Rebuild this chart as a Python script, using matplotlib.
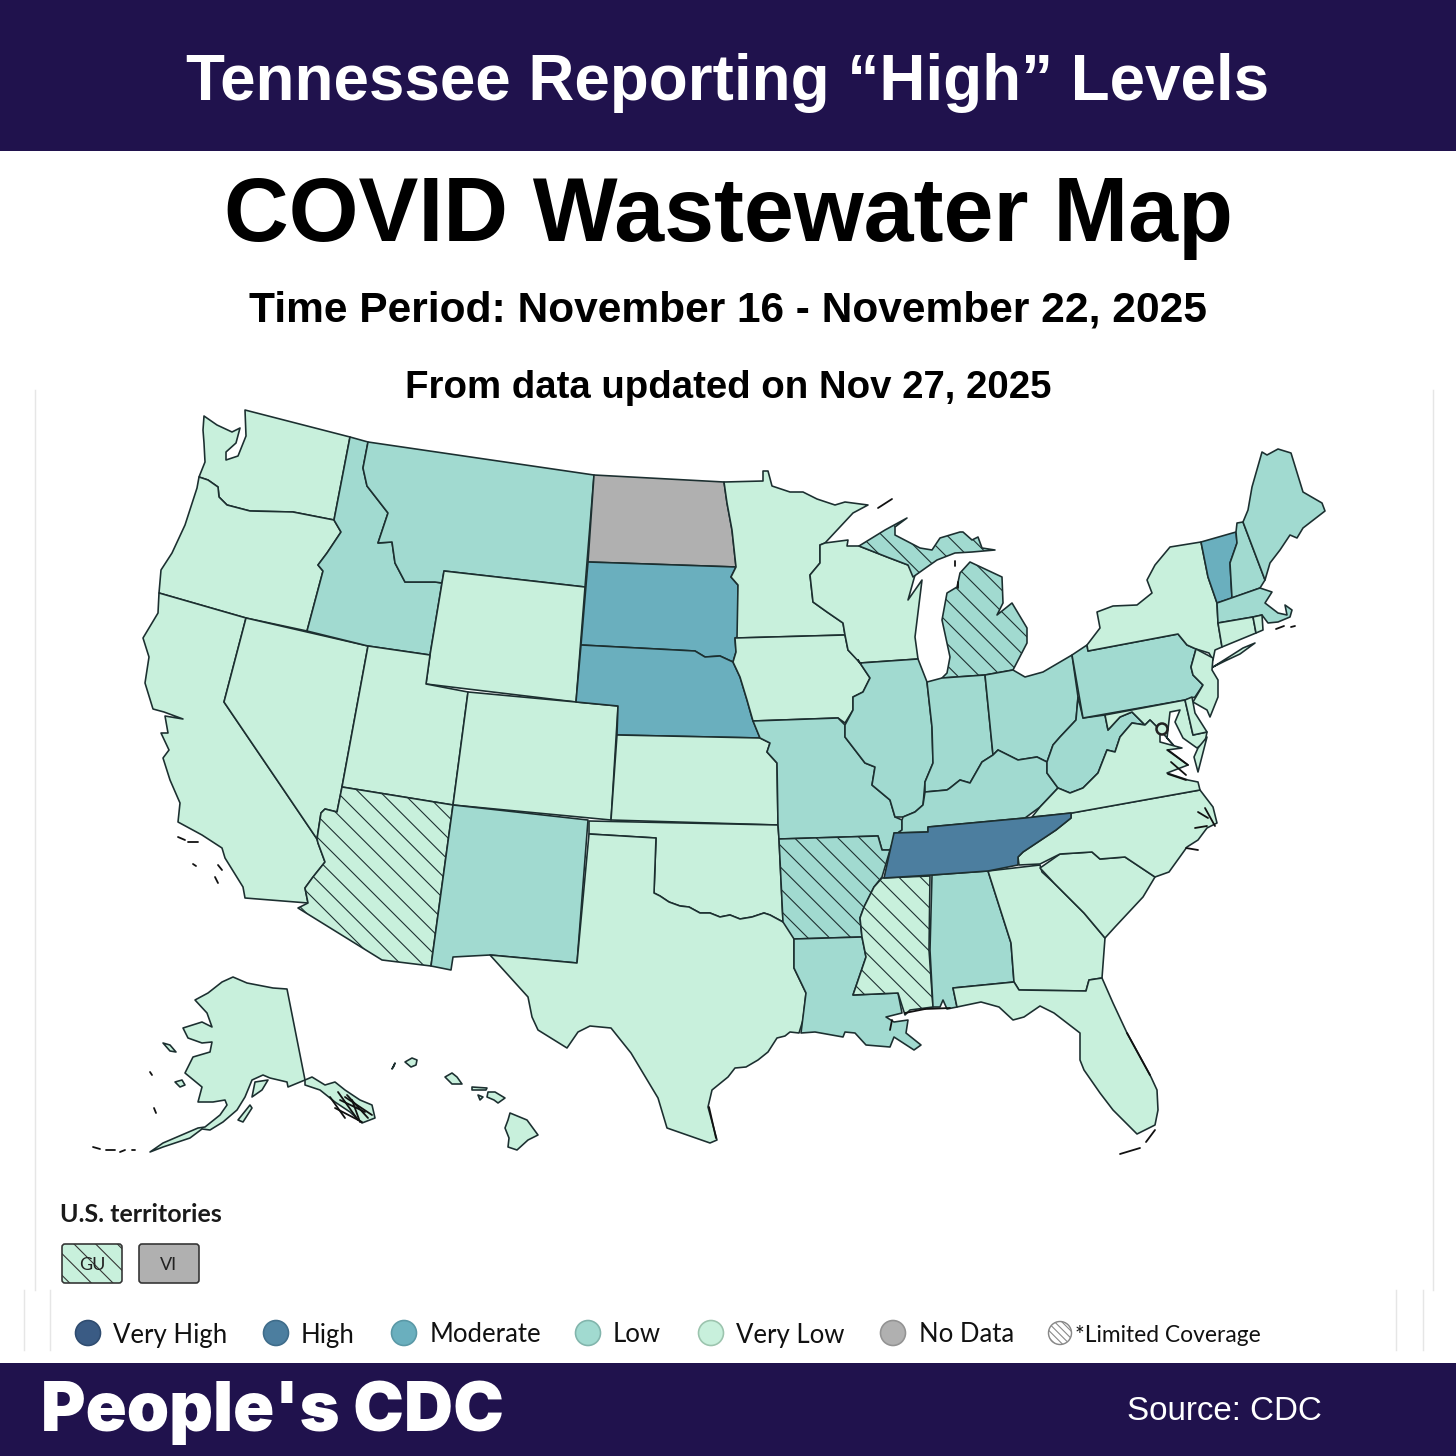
import matplotlib
matplotlib.use("Agg")
import matplotlib.pyplot as plt
from matplotlib.patches import Polygon, Circle, FancyBboxPatch, Rectangle

DPI = 130
plt.rcParams['hatch.linewidth'] = 0.6

def pt(px):
    return px * 72 / DPI

# ---- text
title_banner = "Tennessee Reporting \u201cHigh\u201d Levels"
title_main = "COVID Wastewater Map"
subtitle_period = "Time Period: November 16 - November 22, 2025"
subtitle_update = "From data updated on Nov 27, 2025"
brand = "People's CDC"
source = "Source: CDC"
territories_title = "U.S. territories"
territory_labels = ["GU", "VI"]
territory_levels = ["Very Low", "No Data"]
territory_limited = [True, False]
legend_labels = ["Very High", "High", "Moderate", "Low", "Very Low", "No Data"]
legend_limited = "*Limited Coverage"

COLORS = {"Very High": "#3A5B84", "High": "#4C7E9F", "Moderate": "#6AAFBE",
          "Low": "#A1DAD0", "Very Low": "#C8F0DC", "No Data": "#B0B0B0"}
LEGEND_EDGES = {"Very High": "#2F4C70", "High": "#3F6C8A", "Moderate": "#5A98A6",
                "Low": "#82B5AC", "Very Low": "#9CC4AE", "No Data": "#939393"}

# ---- state outlines (pixel positions of the map image)
WA = [(204,416),(217,425),(232,432),(240,428),(236,443),(226,452),(226,460),(238,456),(246,436),(245,410),(350,437),(334,520),(293,512),(250,511),(227,505),(219,497),(218,487),(208,480),(199,477),(201,472),(205,462),(204,443),(203,430)]
OR = [(199,477),(208,480),(218,487),(219,497),(227,505),(250,511),(293,512),(334,520),(341,532),(327,553),(318,565),(323,571),(307,631),(246,618),(159,593),(161,570),(172,553),(185,525),(197,488)]
CA = [(159,593),(246,618),(224,702),(277,780),(317,839),(318,843),(325,862),(313,877),(305,888),(308,903),(245,898),(243,887),(225,858),(222,848),(202,835),(178,822),(180,803),(170,780),(163,758),(169,750),(161,733),(168,733),(165,716),(183,719),(164,712),(153,709),(145,683),(149,657),(143,638),(158,613)]
NV = [(246,618),(368,646),(342,787),(337,812),(325,809),(321,813),(317,839),(277,780),(224,702)]
ID = [(350,437),(368,442),(363,468),(367,486),(388,513),(379,540),(378,543),(392,542),(395,563),(405,582),(427,582),(435,582),(442,583),(430,655),(368,646),(307,631),(323,571),(318,565),(327,553),(341,532),(334,520)]
MT = [(368,442),(594,475),(585,587),(444,571),(442,583),(435,582),(427,582),(405,582),(395,563),(392,542),(378,543),(379,540),(388,513),(367,486),(363,468)]
WY = [(444,571),(585,587),(576,702),(426,684),(430,655)]
UT = [(368,646),(430,655),(426,684),(468,692),(453,805),(342,787)]
CO = [(468,692),(576,702),(618,706),(611,820),(453,805)]
AZ = [(342,787),(453,805),(431,966),(382,960),(298,908),(308,903),(305,888),(313,877),(325,862),(318,843),(317,839),(321,813),(325,809),(337,812)]
NM = [(453,805),(588,820),(577,963),(490,955),(453,957),(451,970),(431,966)]
ND = [(594,475),(724,482),(727,503),(732,530),(736,567),(588,562)]
SD = [(588,562),(736,567),(731,577),(738,585),(738,637),(735,638),(736,652),(733,662),(720,656),(705,657),(695,651),(581,645)]
NE = [(581,645),(695,651),(705,657),(720,656),(733,662),(740,677),(747,700),(752,718),(760,738),(617,735),(618,706),(576,702)]
KS = [(617,735),(760,738),(770,743),(767,752),(777,763),(778,825),(611,820)]
OK = [(589,821),(778,825),(779,839),(783,922),(770,915),(764,913),(752,917),(740,919),(730,915),(720,917),(710,913),(700,913),(689,907),(680,906),(669,902),(660,896),(654,893),(656,838),(589,834)]
TX = [(589,834),(656,838),(654,893),(660,896),(669,902),(680,906),(689,907),(700,913),(710,913),(720,917),(730,915),(740,919),(752,917),(764,913),(770,915),(783,922),(794,923),(794,940),(794,968),(806,993),(803,1020),(799,1033),(790,1032),(785,1036),(777,1038),(768,1052),(758,1060),(746,1067),(735,1068),(728,1077),(712,1090),(708,1107),(717,1140),(710,1143),(667,1128),(658,1098),(631,1053),(611,1028),(590,1026),(578,1032),(567,1048),(538,1030),(532,1017),(528,997),(490,955),(577,963)]
MN = [(724,482),(763,481),(763,471),(768,471),(772,486),(790,492),(803,492),(817,499),(835,505),(845,502),(868,505),(853,513),(825,543),(820,545),(820,563),(810,575),(813,602),(827,612),(843,623),(845,635),(737,638),(738,585),(731,577),(736,567),(732,530),(727,503)]
IA = [(735,638),(845,635),(848,650),(858,660),(870,678),(863,692),(853,697),(853,710),(845,723),(838,718),(753,721),(747,700),(740,677),(733,662),(736,652)]
MO = [(753,721),(838,718),(845,725),(845,737),(865,763),(875,767),(872,785),(890,800),(895,817),(902,820),(902,830),(895,835),(890,850),(882,850),(878,836),(779,839),(778,825),(777,763),(767,752),(770,743),(760,738)]
AR = [(779,839),(878,836),(882,850),(890,850),(882,877),(874,887),(864,907),(860,918),(862,937),(794,939),(783,922)]
LA = [(794,939),(862,937),(866,957),(853,995),(898,993),(902,1013),(886,1017),(894,1022),(908,1020),(906,1033),(921,1045),(914,1050),(894,1037),(890,1047),(866,1045),(855,1033),(845,1032),(843,1037),(815,1032),(801,1033),(806,993),(794,968)]
MS = [(882,878),(930,876),(929,950),(933,1007),(910,1010),(905,1015),(898,993),(853,995),(866,957),(862,937),(860,918),(864,907),(874,887)]
AL = [(932,875),(988,871),(1011,943),(1014,982),(953,988),(957,1007),(947,1009),(943,1000),(940,1007),(933,1007),(930,950)]
GA = [(988,871),(1040,865),(1042,872),(1054,883),(1084,913),(1105,938),(1102,978),(1089,980),(1086,991),(1019,990),(1014,982),(1011,943)]
SC = [(1040,868),(1060,854),(1092,852),(1100,859),(1125,857),(1155,877),(1143,897),(1115,927),(1105,938),(1084,913),(1054,883)]
NC = [(1071,813),(1200,790),(1213,807),(1217,823),(1207,828),(1198,840),(1187,847),(1169,872),(1155,877),(1125,857),(1100,859),(1092,852),(1060,854),(1040,864),(1019,865),(1018,857),(1023,852),(1056,830),(1071,818)]
TN = [(884,878),(894,833),(928,832),(928,827),(1025,818),(1071,813),(1071,818),(1056,830),(1023,852),(1018,857),(1018,865),(988,871),(932,875)]
FL = [(953,988),(1014,982),(1019,990),(1086,991),(1089,980),(1102,978),(1113,1003),(1127,1033),(1151,1077),(1157,1090),(1158,1110),(1155,1125),(1137,1134),(1131,1128),(1113,1110),(1100,1093),(1084,1070),(1080,1060),(1080,1033),(1054,1013),(1040,1006),(1024,1017),(1013,1020),(999,1007),(981,1002),(957,1007)]
IL = [(860,663),(918,659),(927,682),(932,727),(933,763),(925,782),(923,805),(915,812),(903,817),(895,817),(890,800),(872,785),(875,767),(865,763),(845,737),(845,725),(853,710),(853,697),(863,692),(870,678),(858,660)]
WI = [(820,545),(825,543),(848,540),(847,546),(859,546),(887,557),(908,565),(915,575),(908,600),(922,580),(915,637),(918,659),(860,663),(848,650),(845,635),(843,623),(827,612),(813,602),(810,575),(820,563)]
MI_UP = [(859,546),(885,530),(907,518),(895,527),(895,535),(920,548),(932,550),(940,538),(960,532),(963,532),(972,540),(978,537),(982,548),(995,550),(972,552),(955,553),(937,560),(927,567),(913,577),(908,565),(887,557)]
MI_LP = [(970,562),(1002,577),(1003,603),(997,615),(1012,603),(1027,628),(1027,643),(1013,670),(985,675),(942,678),(947,673),(950,657),(942,620),(947,593),(957,587),(960,573)]
IN = [(927,682),(942,678),(985,675),(993,755),(982,762),(970,783),(960,780),(950,788),(947,790),(925,792),(925,782),(933,763),(932,727)]
OH = [(985,675),(1013,670),(1025,677),(1043,672),(1072,655),(1078,697),(1076,720),(1060,737),(1053,745),(1047,762),(1037,757),(1018,760),(998,750),(993,755)]
KY = [(993,755),(998,750),(1018,760),(1037,757),(1047,762),(1047,773),(1058,788),(1040,807),(1025,818),(928,827),(928,832),(894,833),(895,835),(902,830),(902,820),(903,817),(915,812),(923,805),(925,792),(947,790),(950,788),(960,780),(970,783),(982,762)]
WV = [(1078,697),(1083,718),(1105,715),(1108,730),(1120,717),(1132,712),(1145,725),(1132,723),(1120,737),(1115,752),(1107,750),(1098,773),(1083,788),(1070,793),(1058,788),(1047,773),(1047,762),(1053,745),(1060,737),(1076,720)]
PA = [(1072,655),(1087,645),(1088,651),(1178,634),(1187,645),(1196,649),(1191,667),(1193,675),(1203,685),(1195,697),(1185,700),(1083,718)]
NY = [(1087,645),(1100,628),(1097,612),(1113,606),(1137,605),(1152,593),(1147,580),(1155,565),(1170,547),(1201,542),(1208,577),(1217,603),(1218,623),(1222,647),(1215,650),(1213,660),(1209,653),(1196,649),(1187,645),(1178,634),(1088,651)]
LI = [(1213,667),(1232,655),(1243,648),(1255,643),(1240,654),(1225,661)]
VT = [(1201,542),(1236,532),(1237,543),(1230,563),(1232,598),(1217,603),(1208,577)]
NH = [(1236,532),(1237,523),(1243,522),(1265,580),(1260,588),(1232,598),(1230,563),(1237,543)]
ME = [(1243,522),(1248,510),(1252,487),(1262,452),(1267,455),(1278,449),(1291,453),(1303,492),(1322,503),(1325,511),(1303,528),(1297,538),(1290,535),(1280,550),(1270,563),(1265,580)]
MA = [(1217,603),(1260,588),(1272,592),(1265,603),(1278,613),(1287,615),(1285,605),(1292,610),(1290,617),(1278,622),(1268,623),(1262,615),(1253,617),(1218,623)]
CT = [(1218,623),(1253,617),(1256,633),(1222,647)]
RI = [(1253,617),(1262,615),(1263,630),(1256,633)]
NJ = [(1196,649),(1213,658),(1212,670),(1218,680),(1218,697),(1210,717),(1207,710),(1193,702),(1203,685),(1193,675),(1191,667)]
DE = [(1185,700),(1192,697),(1195,713),(1207,732),(1193,735)]
MD = [(1105,715),(1185,700),(1193,735),(1207,732),(1205,742),(1197,748),(1183,738),(1175,722),(1180,710),(1170,712),(1167,738),(1175,747),(1160,730),(1150,720),(1145,725),(1132,712),(1120,717),(1108,730)]
VA = [(1032,817),(1040,807),(1058,788),(1070,793),(1083,788),(1098,773),(1107,750),(1115,752),(1120,737),(1132,723),(1145,725),(1150,720),(1160,730),(1160,742),(1182,748),(1167,750),(1188,765),(1167,773),(1188,780),(1198,782),(1200,790),(1072,813)]
VA_SHORE = [(1198,748),(1207,737),(1198,772),(1194,757)]
AK = [(287,989),(305,1080),(288,1087),(287,1082),(270,1078),(263,1075),(252,1080),(245,1097),(237,1110),(223,1122),(210,1130),(202,1129),(190,1138),(178,1142),(163,1147),(150,1152),(163,1143),(177,1137),(198,1128),(205,1127),(220,1115),(227,1105),(225,1100),(213,1102),(198,1102),(202,1087),(185,1073),(193,1057),(210,1052),(212,1042),(202,1043),(188,1038),(183,1028),(202,1022),(212,1027),(207,1013),(195,1000),(208,993),(222,982),(233,977),(247,983),(273,988)]
AK_PANHANDLE = [(305,1080),(312,1077),(325,1085),(335,1082),(345,1090),(360,1100),(372,1105),(375,1118),(362,1123),(350,1112),(335,1102),(320,1090),(305,1085)]
AK_KENAI = [(252,1097),(255,1082),(268,1080),(262,1090)]
AK_KODIAK = [(238,1120),(250,1105),(252,1108),(243,1122)]
AK_NUNIVAK = [(175,1082),(182,1080),(185,1085),(180,1087)]
AK_LAWRENCE = [(163,1043),(170,1045),(176,1052),(170,1051)]
HI_BIG = [(510,1113),(527,1120),(538,1135),(528,1140),(517,1150),(508,1147),(509,1138),(505,1128),(508,1120)]
HI_MAUI = [(488,1092),(495,1092),(505,1098),(498,1103),(494,1100),(487,1097)]
HI_MOLOKAI = [(472,1087),(487,1088),(486,1090),(472,1090)]
HI_LANAI = [(478,1095),(483,1097),(480,1100)]
HI_OAHU = [(452,1073),(457,1077),(462,1084),(452,1084),(445,1077)]
HI_KAUAI = [(405,1062),(412,1058),(417,1060),(416,1065),(411,1067)]
HI_NIIHAU = [(395,1063),(392,1069),(394,1066)]

STATE_LEVELS = [
    (WA,"Very Low",False),(OR,"Very Low",False),(CA,"Very Low",False),(NV,"Very Low",False),
    (ID,"Low",False),(MT,"Low",False),(WY,"Very Low",False),(UT,"Very Low",False),(CO,"Very Low",False),
    (AZ,"Very Low",True),(NM,"Low",False),(ND,"No Data",False),(SD,"Moderate",False),(NE,"Moderate",False),
    (KS,"Very Low",False),(OK,"Very Low",False),(TX,"Very Low",False),(MN,"Very Low",False),(IA,"Very Low",False),
    (MO,"Low",False),(AR,"Low",True),(LA,"Low",False),(MS,"Very Low",True),(AL,"Low",False),(GA,"Very Low",False),
    (SC,"Very Low",False),(NC,"Very Low",False),(FL,"Very Low",False),(WI,"Very Low",False),(IL,"Low",False),
    (MI_UP,"Low",True),(MI_LP,"Low",True),(IN,"Low",False),(OH,"Low",False),(KY,"Low",False),(WV,"Low",False),
    (PA,"Low",False),(NY,"Very Low",False),(LI,"Very Low",False),(VT,"Moderate",False),(NH,"Low",False),
    (ME,"Low",False),(MA,"Low",False),(CT,"Very Low",False),(RI,"Very Low",False),(NJ,"Very Low",False),
    (MD,"Very Low",False),(DE,"Very Low",False),(VA,"Very Low",False),(VA_SHORE,"Very Low",False),(TN,"High",False),
    (AK,"Very Low",False),(AK_PANHANDLE,"Very Low",False),(AK_KENAI,"Very Low",False),(AK_KODIAK,"Very Low",False),
    (AK_NUNIVAK,"Very Low",False),(AK_LAWRENCE,"Very Low",False),
    (HI_BIG,"Very Low",False),(HI_MAUI,"Very Low",False),(HI_MOLOKAI,"Very Low",False),(HI_LANAI,"Very Low",False),
    (HI_OAHU,"Very Low",False),(HI_KAUAI,"Very Low",False),(HI_NIIHAU,"Very Low",False),
]

# small coastal islands and inlets
coast_marks = [
    [(178,837),(185,840)],[(188,842),(198,842)],[(193,864),(196,866)],[(218,865),(222,870)],[(215,877),(218,883)],
    [(1140,1148),(1120,1154)],[(1146,1142),(1155,1130)],[(892,1020),(890,1030)],[(905,1013),(925,1009)],[(925,1009),(950,1008)],
    [(1127,1033),(1150,1075)],[(709,1107),(716,1138)],[(1188,765),(1168,750)],
    [(1205,808),(1215,826)],[(1198,812),(1208,818)],[(1195,828),(1207,826)],[(1186,848),(1198,850)],
    [(1171,762),(1186,775)],[(1168,774),(1186,780)],[(1276,629),(1284,626)],[(1291,627),(1295,626)],
    [(330,1097),(345,1118)],[(338,1092),(358,1120)],[(347,1095),(368,1118)],[(340,1100),(365,1112)],[(335,1108),(362,1122)],
    [(345,1097),(372,1115)],[(352,1100),(360,1122)],
    [(93,1147),(100,1149)],[(106,1150),(115,1150)],[(120,1152),(125,1150)],[(132,1150),(135,1150)],[(150,1072),(152,1075)],
    [(154,1108),(156,1113)],[(878,508),(892,499)],[(955,561),(955,566)],[(958,582),(958,588)],
]

dc_marker = (1162, 729)

fig = plt.figure(figsize=(1456 / DPI, 1456 / DPI), dpi=DPI)
ax = fig.add_axes([0, 0, 1, 1])
ax.set_xlim(0, 1456)
ax.set_ylim(1456, 0)
ax.axis("off")

SANS = "Liberation Sans"
STROKE = "#1C2F30"

# faint frame lines of the source screenshot
for x, y0, y1 in [(35, 390, 1290), (1433, 390, 1290), (24, 1290, 1350), (50, 1290, 1350), (1396, 1290, 1350), (1423, 1290, 1350)]:
    ax.plot([x, x], [y0, y1], color="#E6E6E6", lw=0.8, zorder=1)

for poly, level, limited in STATE_LEVELS:
    ax.add_patch(Polygon(poly, closed=True, facecolor=COLORS[level], edgecolor=STROKE, lw=0.9,
                         hatch="\\\\" if limited else None, joinstyle="round", zorder=2))
for seg in coast_marks:
    xs, ys = zip(*seg)
    ax.plot(xs, ys, color="#111111", lw=1.0, solid_capstyle="round", zorder=3)
ax.add_patch(Circle(dc_marker, 5.5, facecolor=COLORS["Very Low"], edgecolor="#222222", lw=1.4, zorder=4))

# banners
ax.add_patch(Rectangle((0, 0), 1456, 151, facecolor="#20124D", edgecolor="none", zorder=5))
ax.add_patch(Rectangle((0, 1363), 1456, 93, facecolor="#20124D", edgecolor="none", zorder=5))
ax.text(728, 83, title_banner, color="white", fontsize=pt(63.8), fontweight="bold", family=SANS, ha="center", va="center", zorder=6)
ax.text(728, 217, title_main, color="black", fontsize=pt(89.8), fontweight="bold", family=SANS, ha="center", va="center", zorder=6)
ax.text(728, 310, subtitle_period, color="black", fontsize=pt(42.5), fontweight="bold", family=SANS, ha="center", va="center", zorder=6)
ax.text(728, 388, subtitle_update, color="black", fontsize=pt(38.4), fontweight="bold", family=SANS, ha="center", va="center", zorder=6)
ax.text(41, 1413, brand, color="white", fontsize=pt(68), fontweight=900, family="Inter", ha="left", va="center", zorder=6)
ax.text(1127, 1411, source, color="white", fontsize=pt(33.2), family=SANS, ha="left", va="center", zorder=6)

# territories
ax.text(60, 1214, territories_title, color="#1A1A1A", fontsize=pt(25), fontweight="bold", family="Lato", ha="left", va="center", zorder=6)
for x0, lab, lev, lim in zip([62, 139], territory_labels, territory_levels, territory_limited):
    ax.add_patch(FancyBboxPatch((x0 + 2, 1246), 56, 35, boxstyle="round,pad=2,rounding_size=3",
                                facecolor=COLORS[lev], edgecolor="#333333", lw=0.9, hatch="\\\\" if lim else None, zorder=6))
    ax.text(x0 + 30, 1265, lab, color="#222222", fontsize=pt(18), family="Lato", ha="center", va="center", zorder=7)

# legend
for cx, tx, lab in zip([88, 276, 404, 588, 711, 893], [113, 301, 430, 613, 736, 919], legend_labels):
    ax.add_patch(Circle((cx, 1333), 12.5, facecolor=COLORS[lab], edgecolor=LEGEND_EDGES[lab], lw=0.9, zorder=6))
    ax.text(tx, 1335, lab, color="#111111", fontsize=pt(25.8), family="Lato", ha="left", va="center", zorder=6)
ax.add_patch(Circle((1060, 1333), 11.5, facecolor="white", edgecolor="#888888", lw=0.8, hatch="\\\\\\\\\\\\", zorder=6))
ax.text(1075, 1335, legend_limited, color="#111111", fontsize=pt(22.8), family="Lato", ha="left", va="center", zorder=6)

fig.savefig("out.png", dpi=DPI, facecolor="white")
